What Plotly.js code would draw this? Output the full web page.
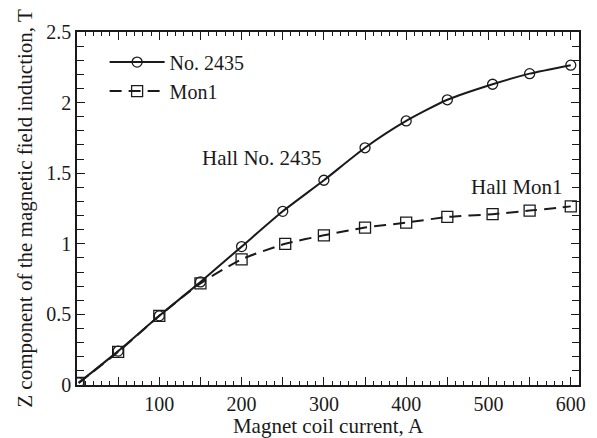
<!DOCTYPE html>
<html>
<head>
<meta charset="utf-8">
<script src="https://cdn.plot.ly/plotly-3.0.1.min.js"></script>
<style>
html,body{margin:0;padding:0;background:#fff;}
#chart{width:597px;height:438px;}
</style>
</head>
<body>
<div id="chart"></div>
<script>
// Data
var current2435 = [2, 50, 100, 150, 200, 250, 300, 350, 400, 450, 505, 550, 600];
var field2435   = [0.015, 0.24, 0.49, 0.73, 0.98, 1.23, 1.45, 1.68, 1.87, 2.02, 2.13, 2.205, 2.265];
var currentMon1 = [2, 50, 100, 150, 200, 253, 300, 350, 400, 450, 505, 550, 600];
var fieldMon1   = [0.015, 0.235, 0.49, 0.72, 0.89, 1.00, 1.06, 1.115, 1.15, 1.19, 1.21, 1.235, 1.265];
var seriesNames = ["No. 2435", "Mon1"];
var xTickVals = [0, 50, 100, 150, 200, 250, 300, 350, 400, 450, 500, 550, 600];
var xTickText = ["", "", "100", "", "200", "", "300", "", "400", "", "500", "", "600"];
var yTickVals = [0, 0.5, 1, 1.5, 2, 2.5];
var yTickText = ["0", "0.5", "1", "1.5", "2", "2.5"];
var xTitle = "Magnet coil current, A";
var yTitle = "Z component of the magnetic field induction, T";
var labels = [
  {text: "Hall No. 2435", x: 225, y: 1.61},
  {text: "Hall Mon1", x: 535, y: 1.40}
];

var ink = "#1a1a1a";
var fam = "Times New Roman";

var traces = [
  {
    x: current2435, y: field2435, name: seriesNames[0], type: "scatter", mode: "lines+markers",
    line: {color: ink, width: 2, shape: "spline", smoothing: 0.6},
    marker: {symbol: "circle-open", size: 10, color: ink, line: {width: 1.3, color: ink}}
  },
  {
    x: currentMon1, y: fieldMon1, name: seriesNames[1], type: "scatter", mode: "lines+markers",
    line: {color: ink, width: 2, shape: "spline", smoothing: 0.6, dash: "12px,7px"},
    marker: {symbol: "square-open", size: 11, color: ink, line: {width: 1.3, color: ink}}
  }
];

var annotations = labels.map(function (l) {
  return {x: l.x, y: l.y, xref: "x", yref: "y", text: l.text, showarrow: false,
          font: {family: fam, size: 21, color: ink}};
});

var layout = {
  width: 597, height: 438,
  margin: {l: 77, r: 18, t: 32, b: 53},
  font: {family: fam, size: 20, color: ink},
  showlegend: true,
  legend: {x: 0.055, y: 0.97, xanchor: "left", yanchor: "top", bgcolor: "rgba(0,0,0,0)",
           font: {family: fam, size: 20, color: ink}, itemwidth: 55},
  xaxis: {
    range: [0, 610], showgrid: false, zeroline: false,
    showline: true, linecolor: ink, linewidth: 1.5, mirror: "ticks",
    ticks: "inside", ticklen: 8, tickwidth: 1.3, tickcolor: ink,
    tickmode: "array", tickvals: xTickVals, ticktext: xTickText,
    tickfont: {family: fam, size: 20, color: ink},
    minor: {dtick: 10, tick0: 0, ticks: "inside", ticklen: 4, tickwidth: 1.2, tickcolor: ink, showgrid: false},
    title: {text: xTitle, font: {family: fam, size: 21, color: ink}, standoff: 6}
  },
  yaxis: {
    range: [0, 2.5], showgrid: false, zeroline: false,
    showline: true, linecolor: ink, linewidth: 1.5, mirror: "ticks",
    ticks: "inside", ticklen: 8, tickwidth: 1.3, tickcolor: ink,
    tickmode: "array", tickvals: yTickVals, ticktext: yTickText,
    tickfont: {family: fam, size: 20, color: ink},
    minor: {dtick: 0.1, tick0: 0, ticks: "inside", ticklen: 7, tickwidth: 1.2, tickcolor: ink, showgrid: false},
    title: {text: yTitle, font: {family: fam, size: 21, color: ink}, standoff: 8}
  },
  annotations: annotations
};

Plotly.newPlot("chart", traces, layout, {displayModeBar: false});
</script>
</body>
</html>
